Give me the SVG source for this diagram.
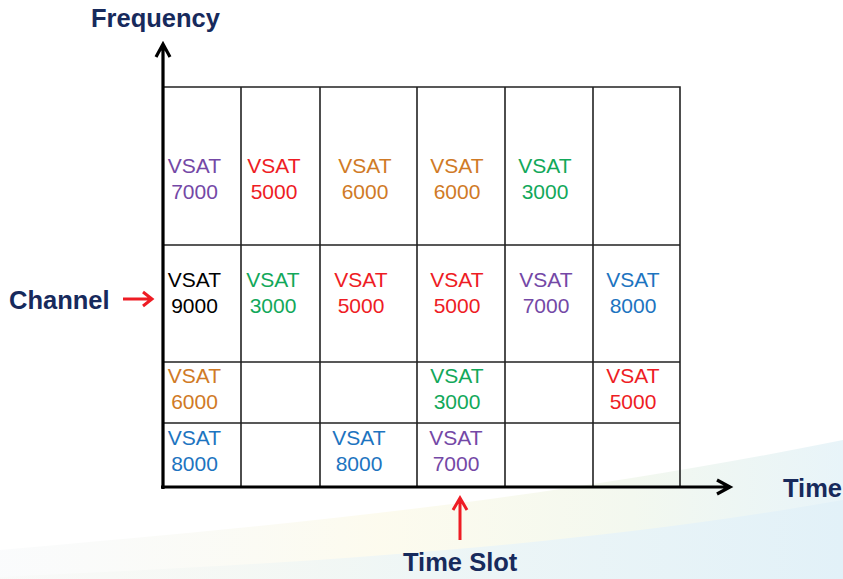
<svg xmlns="http://www.w3.org/2000/svg" width="843" height="579" viewBox="0 0 843 579">
<defs>
<style>
.lbl{font-family:"Liberation Sans",Arial,sans-serif;font-weight:bold;font-size:25.5px;fill:#172a5c}
.cell{font-family:"Liberation Sans",Arial,sans-serif;font-size:21px;text-anchor:middle}
.grid{stroke:#222;stroke-width:1.6;fill:none}
.axis{stroke:#000;stroke-width:3.2;fill:none}
.red{stroke:#ee1c24;stroke-width:3;fill:none}
.pu{fill:#7448a6}.rd{fill:#ee1c24}.or{fill:#d07a26}.gr{fill:#12a85a}.bl{fill:#1d74c0}.bk{fill:#000}
</style>
<linearGradient id="sw" x1="0" y1="0" x2="1" y2="0">
<stop offset="0" stop-color="#f3f6f8" stop-opacity="0.4"/>
<stop offset="0.45" stop-color="#fcfaea" stop-opacity="0.8"/>
<stop offset="0.75" stop-color="#f3f8ef"/>
<stop offset="1" stop-color="#e8f4f9"/>
</linearGradient>
<linearGradient id="sw2" x1="0" y1="0" x2="1" y2="0">
<stop offset="0" stop-color="#f6f7f2" stop-opacity="0.3"/>
<stop offset="0.5" stop-color="#eef6f6"/>
<stop offset="1" stop-color="#e2f1f8"/>
</linearGradient>
</defs>
<rect width="843" height="579" fill="#fff"/>
<path d="M0 550 C250 528 520 505 843 440 L843 579 L0 579 Z" fill="url(#sw)"/>
<path d="M0 577 C260 565 560 550 843 500 L843 579 L0 579 Z" fill="url(#sw2)"/>

<g id="grid">
<path class="grid" d="M163 87 H680 V487 M163 245 H680 M163 362 H680 M163 423 H680 M241 87 V487 M320 87 V487 M417 87 V487 M505 87 V487 M593 87 V487"/>
</g>

<g id="connectors">
<path class="axis" d="M163 489 V44 M156 57 L163 44 L170 57"/>
<path class="axis" d="M161 487 H729 M717 480 L730 487 L717 494"/>
<path class="red" d="M123 299 H151 M143 292 L152 299 L143 306"/>
<path class="red" d="M460 540 V499 M453 510 L460 498 L467 510"/>
</g>

<g id="labels">
<text class="lbl" x="91" y="27">Frequency</text>
<text class="lbl" x="9" y="309">Channel</text>
<text class="lbl" x="783" y="497">Time</text>
<text class="lbl" x="403" y="571">Time Slot</text>
</g>

<g id="r1c1" class="pu cell"><text x="194.5" y="173">VSAT</text><text x="194.5" y="199">7000</text></g>
<g id="r1c2" class="rd cell"><text x="274" y="173">VSAT</text><text x="274" y="199">5000</text></g>
<g id="r1c3" class="or cell"><text x="365" y="173">VSAT</text><text x="365" y="199">6000</text></g>
<g id="r1c4" class="or cell"><text x="457" y="173">VSAT</text><text x="457" y="199">6000</text></g>
<g id="r1c5" class="gr cell"><text x="545" y="173">VSAT</text><text x="545" y="199">3000</text></g>

<g id="r2c1" class="bk cell"><text x="194.5" y="287">VSAT</text><text x="194.5" y="313">9000</text></g>
<g id="r2c2" class="gr cell"><text x="273" y="287">VSAT</text><text x="273" y="313">3000</text></g>
<g id="r2c3" class="rd cell"><text x="361" y="287">VSAT</text><text x="361" y="313">5000</text></g>
<g id="r2c4" class="rd cell"><text x="457" y="287">VSAT</text><text x="457" y="313">5000</text></g>
<g id="r2c5" class="pu cell"><text x="546" y="287">VSAT</text><text x="546" y="313">7000</text></g>
<g id="r2c6" class="bl cell"><text x="633" y="287">VSAT</text><text x="633" y="313">8000</text></g>

<g id="r3c1" class="or cell"><text x="194.5" y="383">VSAT</text><text x="194.5" y="409">6000</text></g>
<g id="r3c4" class="gr cell"><text x="457" y="383">VSAT</text><text x="457" y="409">3000</text></g>
<g id="r3c6" class="rd cell"><text x="633" y="383">VSAT</text><text x="633" y="409">5000</text></g>

<g id="r4c1" class="bl cell"><text x="194.5" y="445">VSAT</text><text x="194.5" y="471">8000</text></g>
<g id="r4c3" class="bl cell"><text x="359" y="445">VSAT</text><text x="359" y="471">8000</text></g>
<g id="r4c4" class="pu cell"><text x="456" y="445">VSAT</text><text x="456" y="471">7000</text></g>
</svg>
